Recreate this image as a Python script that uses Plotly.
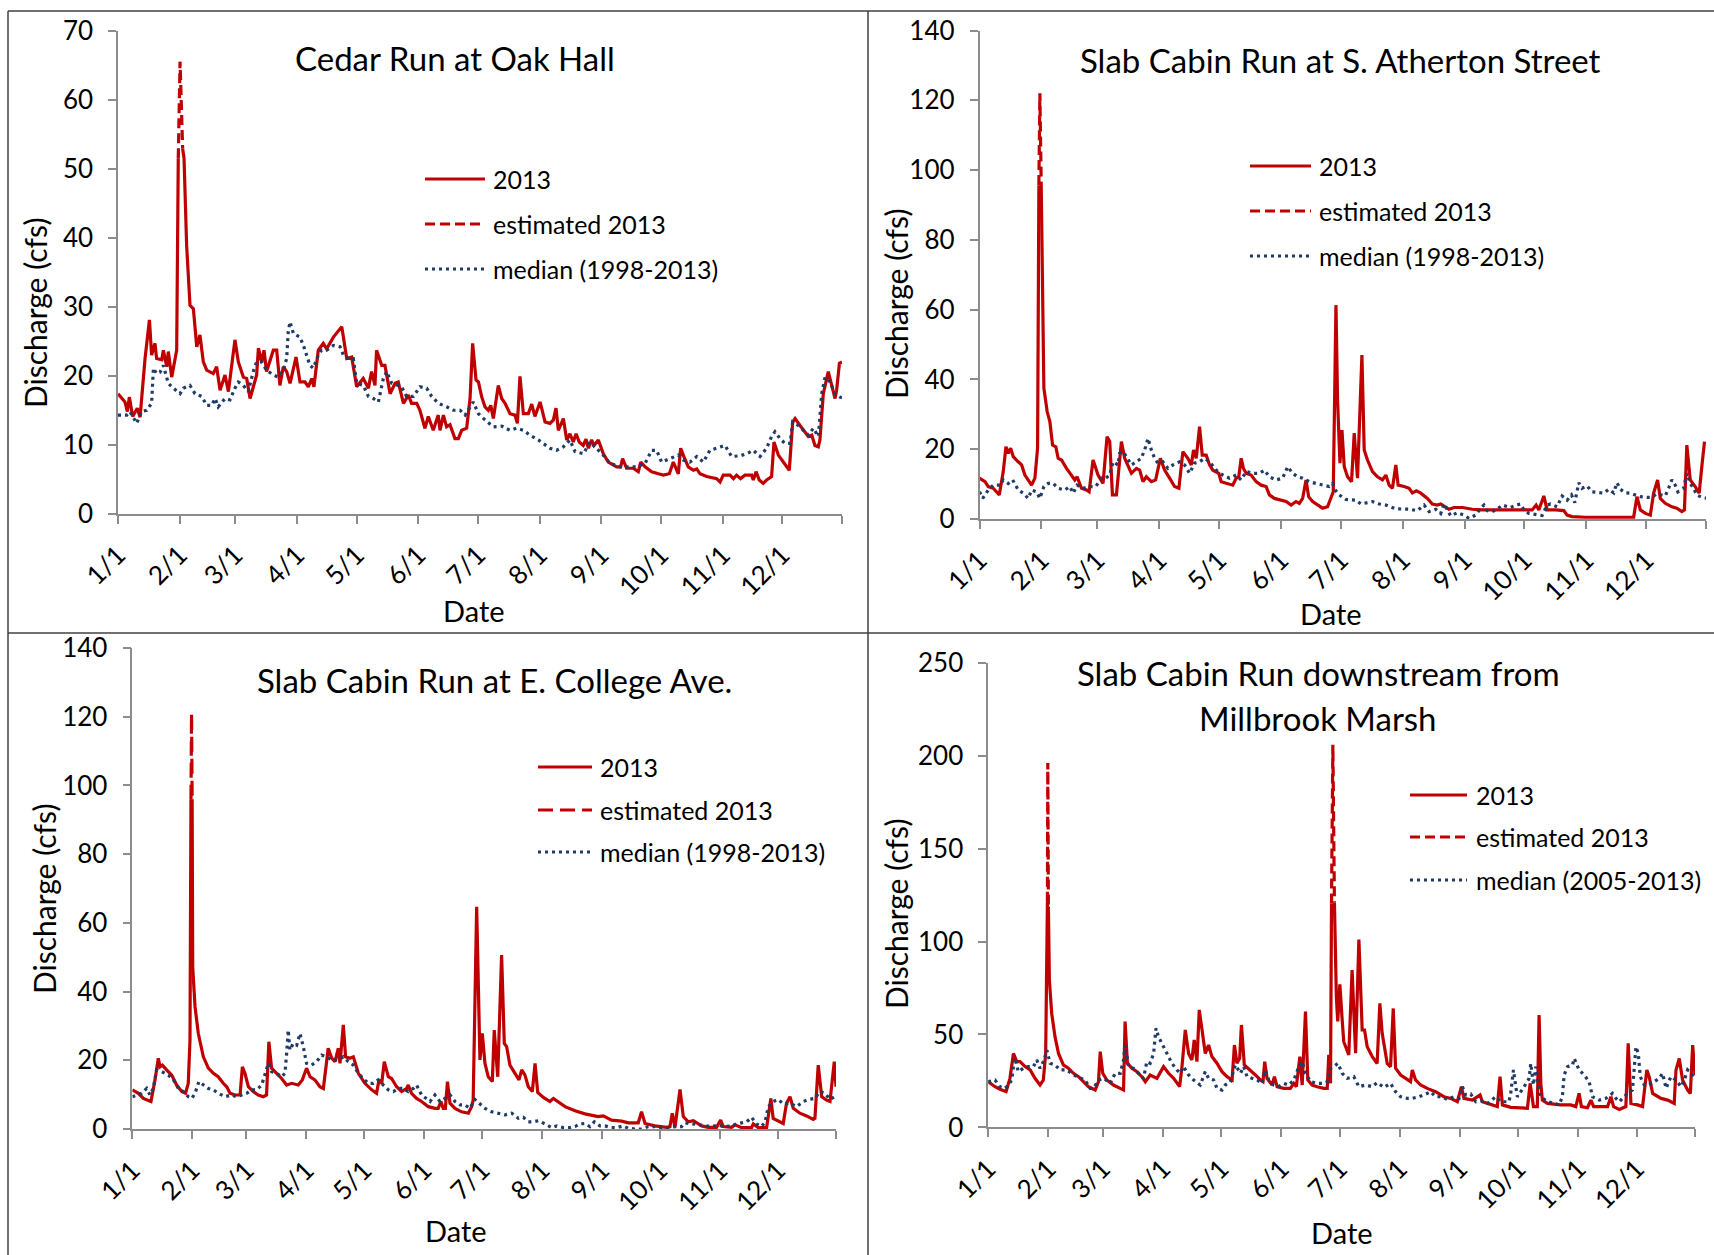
import pandas as pd
import plotly.graph_objects as go

# ---------------------------------------------------------------------------
# Daily discharge (cfs), 2013.  Positions along the year are given as day of
# year (1 = Jan 1).  None marks a break in the measured record where the
# estimated values take over.
# ---------------------------------------------------------------------------

# Cedar Run at Oak Hall
cedar_days = [1, 4.5, 5.7, 6.7, 8.4, 10.7, 12.1, 12.9, 14.6, 16.8, 17.9, 19.6, 20.4, 23, 23.8, 25.5,
              26.3, 28, 29.7, 30.5, 31.3, 32.2, 33.5, 34.2, 35.5, 37.2, 38.9, 40.6, 42.2, 43.9, 45.6,
              48.9, 50.6, 52.3, 54.8, 56.5, 59.8, 61.5, 64, 65.7, 67.4, 70.7, 71.6, 73.2, 74.4, 75.7,
              79.1, 80.8, 82.4, 84.1, 85.8, 87.5, 90.5, 92.5, 95, 96.7, 98.4, 99.5, 101.7, 104.2,
              105.9, 109.3, 113.5, 116, 118.5, 121, 124.3, 126.9, 128.5, 130.2, 131, 133.6, 135.2,
              137.8, 140.3, 141.9, 144.5, 147, 148.6, 151.2, 152.8, 155.3, 157, 159.5, 162, 162.9,
              164.6, 166.2, 167.9, 170.4, 172.1, 173.8, 176.3, 178, 179.3, 181, 182.2, 183.8, 185.5,
              187.2, 188.4, 189.7, 192.2, 193.9, 195.6, 198.1, 200.6, 201.8, 203.1, 204.8, 207.3,
              209, 210.6, 213.2, 215.7, 218.2, 219.9, 221.2, 222.4, 224.9, 226.6, 228.2, 229.9,
              231.3, 232.9, 234.9, 236.3, 237.5, 239.1, 240.3, 242.5, 245, 247.5, 251.7, 253.7,
              254.7, 256.7, 260, 262.6, 263.8, 266, 269.3, 272.7, 275.2, 278.2, 280.2, 282.7, 283.9,
              285.2, 287.7, 290.3, 292, 293.6, 297, 302, 303.7, 305.3, 308.7, 310.4, 312, 314, 316.2,
              319.6, 320.4, 321.8, 323.4, 325.4, 327.1, 329.6, 330.8, 333, 335.5, 338.5, 340.2,
              341.4, 343.9, 346.4, 348.1, 349.8, 351.4, 353.1, 353.9, 355.6, 358.1, 361.5, 362.3,
              363.7, 365]
cedar_2013 = [17.4, 16.2, 14.8, 16.9, 14.1, 15.3, 14.0, 17.2, 22.5, 28.1, 23, 24.7, 22.5, 22.3, 23.7,
              21.3, 23.5, 19.8, 22.3, 23.7, 51.5, None, 52.9, 51.5, 38.9, 30.2, 29.7, 24.2, 25.9, 22,
              20.8, 20.3, 21.3, 17.9, 20.1, 17.7, 25.2, 22, 19.8, 19.6, 16.7, 20.1, 24, 22, 23.7, 20.6,
              23.7, 23.7, 18.6, 21.3, 20.6, 18.9, 22.7, 19.1, 19.1, 18.4, 19.6, 18.4, 23.7, 24.7, 23.9,
              25.6, 27.1, 22.5, 22.7, 18.4, 19.6, 18.2, 20.6, 18.6, 23.7, 21.5, 21.5, 17.4, 18.9, 19.1,
              16, 17.2, 16, 16, 15, 12.4, 14.1, 12.1, 14.3, 12.1, 14.3, 12.6, 12.9, 10.9, 10.9, 12.1,
              12.4, 16.7, 24.7, 19.4, 19.1, 17, 15.5, 15, 15.7, 13.8, 18.6, 16.7, 16, 14.5, 14.3, 13.1,
              19.9, 14.5, 14.5, 15.9, 14.1, 16.2, 13.3, 13.1, 13.6, 15.3, 12.1, 13.8, 10.7, 11.6, 10.4,
              11.6, 10.4, 9.9, 10.8, 9.5, 10.7, 9.9, 10.7, 8.7, 7.5, 6.8, 6.8, 8.0, 6.6, 6.6, 6.1, 7.5,
              6.8, 6.1, 5.8, 5.6, 5.8, 7.5, 5.8, 9.5, 8.5, 6.8, 6.3, 6.5, 5.8, 5.4, 5.1, 4.6, 5.6, 5.6,
              5.1, 5.6, 5.1, 5.6, 5.6, 4.9, 6.1, 4.9, 4.4, 4.9, 5.4, 10.4, 8.5, 7.5, 6.3, 13.3, 13.8,
              12.8, 11.9, 11.2, 11.4, 9.9, 9.7, 10.7, 17.4, 20.6, 16.7, 17.9, 21.8, 22]
cedar_est_days = [31.3, 32.2, 33.5]
cedar_est = [51.5, 65.5, 52.9]
cedar_med_days = [1, 5.4, 7, 10.4, 12.9, 15.4, 17.9, 18.8, 20.4, 22.1, 23.8, 26.3, 28.8, 32.2, 33.8,
                  37.2, 39.7, 43.1, 45.6, 48.1, 49.8, 51.4, 54.8, 57.3, 59.8, 61.5, 64, 66.5, 69, 70.7,
                  73.2, 75.7, 79.1, 81.6, 84.1, 85.8, 86.6, 87.5, 89.2, 92.5, 94.2, 95.9, 97.5, 99.2,
                  101.7, 103.4, 105.9, 109.3, 112.6, 114.3, 116.8, 119.3, 121, 124.3, 126.9, 129.4,
                  131.9, 134.4, 136.1, 138.6, 141.1, 143.6, 146.1, 149.5, 152.8, 156.2, 158.7, 162.1,
                  166.2, 169.6, 173, 175.5, 179.6, 182.2, 185.5, 189.7, 193.9, 198, 201.4, 204.8,
                  208.1, 212.3, 218.2, 221.5, 224.9, 228.2, 230.8, 235, 238.3, 241.7, 245, 248.4,
                  253.4, 257.6, 261.8, 266, 269.3, 271.8, 274.3, 278.5, 282.7, 285.2, 288.6, 292,
                  295.3, 298.6, 302, 306.2, 309.5, 313.7, 317.1, 320.4, 323.8, 327.1, 329.6, 331.3,
                  333.8, 336.3, 338.9, 340.2, 343, 345.6, 348.1, 350.6, 353.1, 354.8, 356.5, 359,
                  361.5, 364, 365]
cedar_median = [14.3, 14.3, 14.8, 13.1, 14.8, 15, 16, 21.1, 20.3, 20.5, 21.5, 18.9, 18.2, 17.4, 18.2,
                18.6, 17.4, 17, 15.7, 15.7, 16.7, 15.5, 16.7, 16.5, 18.2, 19.1, 18.6, 17.7, 20.6, 22,
                22, 20.8, 20.1, 19.8, 20.8, 22.5, 26.4, 27.8, 26.1, 25.6, 24.4, 23, 21.5, 21.1, 23,
                23.7, 23.7, 24.4, 24.2, 23, 22.5, 22.5, 18.9, 18.6, 17, 16.7, 16.2, 19.6, 20.6, 18.9,
                18.6, 18.4, 17, 17, 18.4, 18.2, 17, 16, 15.5, 15, 15, 14.3, 16.2, 14.5, 13.6, 12.6,
                12.7, 12.1, 12.4, 12.1, 11.4, 10.7, 9.5, 9.2, 9.7, 10.7, 9, 8.7, 10.4, 9.5, 8.5, 7.3,
                6.8, 6.8, 6.8, 7.3, 9.2, 9.2, 7.5, 8, 8.5, 7.8, 7.5, 8.3, 7.5, 9.2, 9.5, 9.9, 8.3, 8.4,
                8.7, 9.2, 8.3, 9.5, 11.2, 11.9, 10.9, 10.2, 10.2, 13.3, 12.8, 12.1, 11.4, 12.4, 11.2,
                17.4, 19.8, 19.1, 17.4, 16.9, 16.8]

# Slab Cabin Run at S. Atherton Street
atherton_days = [1, 3.75, 5.4, 7.9, 10.9, 12.9, 14.25, 15.4, 16.6, 17.9, 20.4, 22.1, 23.75, 25.4, 27.1,
                 28.75, 30.1, 30.75, 31.3, 31.9, 32.6, 33.25, 34.9, 36.25, 37.6, 39.25, 40.4, 42.1,
                 44.6, 46.25, 48.75, 49.9, 52.1, 54.6, 55.9, 57.9, 60.4, 62.9, 64.9, 66.25, 67.6, 69.6,
                 70.9, 72.1, 73.75, 75.4, 77.1, 79.6, 81.25, 82.9, 84.6, 87.1, 89.25, 91.6, 93.75,
                 96.25, 98.75, 100.9, 102.9, 105.4, 107.1, 108.25, 109.6, 111.25, 112.6, 114.6,
                 116.25, 117.9, 120.9, 122.1, 125.4, 127.9, 129.6, 130.9, 132.1, 133.25, 134.6, 137.1,
                 139.6, 142.1, 144.6, 146.25, 148.75, 152.1, 154.6, 157.1, 159.6, 161.25, 162.9,
                 164.6, 165.9, 167.9, 170.4, 172.9, 175.4, 177.1, 178.25, 179.6, 180.4, 181.6, 182.6,
                 183.75, 185.4, 187.4, 188.75, 190.4, 192.6, 193.75, 195.4, 197.9, 200.4, 202.9,
                 204.6, 206.25, 207.9, 209.6, 210.75, 213.75, 216.25, 217.9, 219.9, 222.1, 225.4,
                 227.9, 230.4, 232.1, 234.6, 236.25, 238.75, 243, 247.9, 252.9, 259.6, 266.25,
                 272.9, 277.9, 279.9, 281.25, 283.75, 285.4, 289.6, 293.75, 295.4, 297.9, 304.6,
                 309.6, 316.25, 322.9, 328.75, 330.4, 332.1, 334.6, 337.1, 338.75, 340.75, 342.1,
                 344.6, 347.9, 350.4, 352.9, 354.2, 355.4, 357.1, 359.6, 361.6, 362.9, 364.25]
atherton_2013 = [11.7, 10.7, 9.3, 8.8, 6.9, 13.6, 20.7, 18.8, 20.3, 17.9, 16.4, 15.5, 12.6, 11.2, 9.7,
                 11.7, 20.3, 95.7, None, 96.7, 55.6, 37.5, 30.8, 27.9, 21.2, 20.7, 17.4, 16.9, 14.5,
                 13.1, 11.2, 12.1, 8.8, 8.3, 7.8, 16.9, 12.6, 10.2, 23.6, 22.2, 6.9, 6.9, 14.5, 22.2,
                 17.4, 15.5, 13.1, 14.5, 14, 10.7, 12.1, 10.7, 11.2, 17.4, 14, 11.7, 9.3, 8.8, 19.3,
                 17.4, 15.5, 19.8, 17.4, 26.5, 18.3, 18.3, 15.5, 14, 13.1, 10.7, 10.2, 9.7, 11.7, 12.1,
                 17.4, 14.5, 13.1, 12.6, 10.7, 9.7, 9.3, 6.9, 5.9, 5.4, 5, 4, 5, 4.5, 5.9, 11.2, 6.4, 5,
                 4, 3.1, 3.5, 5.9, 7.8, 61.3, 34, 16, 25.5, 15, 12.1, 10.7, 24.6, 11.7, 47, 19.8, 16.9,
                 13.6, 12.1, 11.2, 12.6, 9.7, 8.8, 15.5, 9.7, 9.3, 8.8, 7.5, 8.1, 7.4, 5.9, 4.3, 4, 4.3,
                 3.5, 2.8, 3.3, 3.3, 2.8, 2.6, 2.6, 2.6, 2.6, 2.6, 4, 2.6, 6.6, 2.6, 2.6, 2.4, 1.1, 0.7,
                 0.5, 0.5, 0.7, 0.5, 0.5, 6.4, 2.6, 1.6, 1.1, 7.4, 11.2, 5.9, 4.5, 3.5, 3.1, 2.1, 2.6,
                 21.2, 11.2, 9.3, 7.4, 15, 22.2]
atherton_est_days = [30.75, 31.25, 31.9]
atherton_est = [95.7, 122, 96.7]
atherton_med_days = [1, 2.6, 5.4, 7.9, 11.25, 12.9, 15.4, 17.6, 20.4, 22.9, 25.4, 27.1, 29.6, 31.25,
                     33.25, 35.4, 37.9, 40.4, 43.75, 46.25, 47.9, 49.9, 52.9, 56.25, 59.25, 62.1, 64.25,
                     66.25, 67.9, 70.4, 71.25, 72.9, 74.6, 77.1, 79.6, 82.1, 84.25, 85.4, 87.1, 88.75,
                     90.4, 92.9, 95.4, 97.9, 101.25, 103.75, 106.25, 108.75, 111.25, 113.75, 116.25,
                     119.6, 122.9, 126.25, 129.6, 132.1, 134.6, 137.9, 141.25, 143.75, 146.25, 149.6,
                     152.9, 155.4, 157.9, 160.4, 162.9, 166.25, 169.6, 172.9, 176.25, 177.9, 179.25,
                     181.25, 184.6, 189.6, 192.1, 197.9, 201.25, 204.6, 209.6, 216.25, 220.4, 223.75,
                     226.25, 229.6, 232.1, 233.75, 235.4, 237.1, 240.4, 243.75, 246.25, 249.6, 252.1,
                     253.75, 255.4, 257.9, 260.4, 262.9, 267.1, 269.6, 272.1, 273.75, 276.25, 279.6,
                     282.9, 285.4, 287.1, 290.4, 292.9, 295.4, 297.6, 299.25, 300.4, 301.25, 302.9,
                     305.4, 307.9, 311.25, 313.75, 316.25, 318.75, 320.4, 322.1, 324.6, 327.1, 329.6,
                     332.1, 335.4, 337.6, 340.4, 342.9, 344.6, 346.25, 347.9, 349.6, 350.9, 353.75,
                     355.4, 357.1, 358.75, 360.4, 362.9, 365]
atherton_median = [7.8, 5.9, 8.3, 9.7, 9.7, 11.2, 10.2, 11.2, 8.3, 7.4, 5.9, 8.3, 7.8, 5.9, 9.3, 10.2,
                   10.2, 8.8, 8.3, 9.3, 7.4, 9.7, 8.8, 9.3, 9.3, 11.7, 11.7, 12.6, 16.4, 15.5, 18.8,
                   19.3, 17.9, 15.5, 16.4, 17.4, 20.7, 23.1, 19.8, 17.4, 16, 16.4, 14.5, 15.5, 16.4,
                   15.5, 13.1, 16, 16.4, 17.4, 16.4, 14, 12.6, 11.7, 12.6, 11.2, 13.6, 13.1, 13.1, 14,
                   12.1, 11.2, 11.7, 15, 13.1, 12.1, 11.7, 10.7, 10.2, 9.7, 9.3, 10.2, 8.3, 6.9, 5.6,
                   5.4, 4.3, 5, 4.3, 4, 2.9, 2.8, 2.4, 4, 2.1, 2.8, 1.6, 4.3, 2.6, 0.9, 1.8, 1.1, 0.2,
                   1.1, 3.1, 4, 2.4, 2.1, 2.8, 4, 3.3, 4, 4.3, 2.6, 1.6, 1.4, 1, 4, 4.3, 3.5, 6.6, 5.4,
                   6.9, 4.7, 8.8, 10.4, 8.8, 9.5, 7.8, 7.5, 7.4, 8.5, 7.5, 10.4, 8.5, 7.5, 7.4, 6.9,
                   6.4, 6.2, 6.2, 7.2, 6.9, 6.6, 8.8, 11.2, 9.7, 7.8, 8.8, 13.1, 10.2, 8.8, 6.9, 6.2, 6]

# Slab Cabin Run at E. College Ave.
college_days = [1, 4.1, 6.65, 10.6, 12.7, 14.4, 15.3, 16.5, 18.7, 21.3, 23.9, 26.5, 28.5, 29.9, 30.8,
                31.3, 31.6, 31.9, 32.2, 33.4, 35.1, 37.7, 40.3, 42.9, 45.4, 48, 49.8, 51.5, 54.1,
                56.7, 57.9, 59.2, 61, 63.5, 66.1, 68.7, 70.4, 71.6, 73, 75.6, 78.2, 80.8, 83.4, 86.8,
                88.9, 91.1, 92.9, 95.4, 98, 99.8, 102.3, 104.1, 105.8, 107.5, 108.4, 110.1, 111.3,
                113.5, 115.3, 117.9, 121.3, 124.8, 127.3, 128.6, 130, 131.3, 133.4, 135.1, 137.7,
                140.3, 142.9, 143.7, 145.4, 148, 150.6, 154.1, 157.5, 159.2, 160.6, 161.8, 162.9,
                164, 165.3, 167.9, 171.3, 174.8, 176.5, 177.3, 179.1, 180.8, 182, 183.4, 185.1,
                187.2, 188.2, 190, 192, 193.4, 194.6, 196.3, 198.9, 201, 202.4, 204.1, 205.8, 207.9,
                209.3, 210.7, 213.6, 217, 218.8, 221.3, 224.8, 230, 235.1, 242, 244.6, 248.9, 254.1,
                257.6, 262.7, 264.4, 266.2, 271.3, 277.4, 279.1, 280.3, 281.7, 284.3, 286, 288.6,
                291.2, 295.5, 298.9, 303.2, 305.3, 306.7, 311, 312.7, 316.2, 321.3, 322.2, 324.8,
                329.1, 331.3, 332.5, 335.1, 337.7, 339.4, 341.2, 342.9, 346.3, 349.8, 353.2, 354.1,
                355.8, 357.6, 360.1, 361.9, 364.1, 365]
college_2013 = [11.4, 10.4, 8.9, 8, 14.3, 20.6, 18.1, 18.6, 17.2, 15.7, 12.8, 10.9, 10.4, 13.3, 25.9,
                95.8, None, 96, 47.2, 35.6, 27.8, 21, 17.7, 16.2, 15.2, 13.3, 12.3, 10.4, 9.9, 9.9,
                18.1, 16.2, 12.3, 10.9, 9.9, 9.4, 9.9, 25.4, 17.7, 16.2, 14.7, 12.8, 13.3, 12.8, 14.3,
                17.7, 15.2, 14.3, 12.3, 11.8, 23.5, 20.6, 19.6, 23.5, 19.1, 30.3, 21, 20.6, 21, 16.2,
                13.3, 11.4, 10.4, 14.3, 13.3, 19.6, 15.2, 14.7, 12.3, 10.9, 11.8, 12.8, 10.4, 8.9, 8,
                6.5, 6, 6, 8, 6, 6, 13.8, 7.5, 6, 5, 4.6, 6.5, 8.4, 64.7, 20.1, 27.8, 19.1, 15.2, 13.8,
                28.8, 15.2, 50.6, 24.9, 24, 18.6, 16.2, 14.3, 17.2, 15.7, 12.3, 10.9, 19.1, 10.6, 9.2,
                8, 8.9, 8, 6.5, 5.3, 4.4, 3.6, 3.8, 2.6, 2.3, 1.8, 1.8, 5, 1.6, 0.9, 0.5, 0.7, 4.6, 0.5,
                11.5, 3.6, 2.1, 2.4, 0.9, 0.5, 0.5, 2.6, 0.7, 0.5, 1.2, 0.4, 0.4, 1.5, 0.4, 0.4, 8.9,
                3.1, 2.4, 1.6, 7.5, 9.4, 6, 4.6, 3.8, 2.8, 3.1, 18.6, 9.4, 8.4, 8, 19.6, 12.3]
college_est_days = [31.3, 31.6, 31.9]
college_est = [95.8, 121, 96]
college_med_days = [1, 3.2, 5.8, 8.4, 10.1, 11.8, 13.5, 16.1, 19.6, 22.2, 24.8, 27.3, 29.9, 31.7,
                    33.4, 35.4, 37.7, 40.3, 42.9, 45.4, 48.9, 52.3, 54.9, 57.5, 60.1, 62.7, 65.3, 67.9,
                    69.6, 71.3, 73, 75.6, 78.2, 79.9, 80.8, 81.6, 82.5, 84.2, 86, 87.7, 89.4, 91.1,
                    93.7, 96.3, 98.9, 101.5, 104.1, 107.5, 110.1, 112.7, 115.3, 117.9, 120.4, 123,
                    125.6, 128.2, 130.8, 133.4, 136, 138.6, 141.1, 143.7, 146.3, 148, 150.6, 153.2,
                    155, 157.5, 160.1, 162.7, 165.3, 167.9, 170.5, 173.1, 175.6, 178.2, 180.8, 183.4,
                    186.9, 190.3, 193.8, 197.2, 200.7, 203.2, 205.8, 208.4, 211, 214.4, 217.9, 220.5,
                    223.9, 227.4, 230, 232.6, 235.1, 237.7, 240, 242.9, 245.5, 248.9, 251.5, 254.9,
                    257.6, 261, 264.4, 267.9, 271.3, 274.8, 278.2, 281.7, 285.1, 286.9, 290.3, 293.8,
                    297.2, 300.7, 304.1, 306.7, 311, 313.6, 316.2, 318.8, 321.3, 323.9, 326.2, 328.2,
                    330, 332.5, 335.1, 337.7, 341.2, 344.6, 348.1, 350.7, 354.1, 356.7, 359.3, 361.9,
                    364.4]
college_median = [9.4, 9.9, 10.4, 11.8, 9.9, 11.8, 17.2, 16.7, 15.7, 14.3, 11.8, 10.9, 9.4, 8.9, 10.4,
                  13.8, 12.8, 11.8, 11.4, 10.4, 9.4, 9.9, 9.4, 9.9, 10.4, 11.4, 11.4, 12.8, 15.7, 19.1,
                  16.7, 16.2, 15.2, 16.2, 22, 28.8, 23, 24.9, 24.4, 27.8, 24, 19.1, 18.6, 19.6, 21.5,
                  21, 20.1, 20.1, 21, 19.6, 18.6, 16.2, 14.7, 13.3, 13.3, 14.3, 12.8, 11.4, 10.9, 11.8,
                  11.8, 10.9, 11.8, 12.8, 9.9, 8.9, 8, 9.9, 8, 8.9, 9.9, 8, 7, 7, 6, 8.6, 7.3, 6, 5, 4.6,
                  4.1, 4.6, 3.1, 3.4, 2.1, 2.1, 2.4, 1.5, 0.4, 0.9, 0.4, 0.4, 0.7, 1.5, 1.6, 0.7, 2.1,
                  0.9, 0.9, 0.4, 0.4, 0.9, 0.2, 0, 0, 0.7, 0.7, 0.2, 0.2, 0.7, 0.7, 1.8, 1.5, 1.2, 0.9,
                  0.7, 1.2, 0.7, 0.9, 1.5, 1.8, 2.1, 3.4, 1.5, 0.7, 1.8, 6.5, 8, 8.6, 7.3, 7.5, 6.5, 8,
                  8.6, 8.9, 10.9, 10.4, 8.6, 9.4]

# Slab Cabin Run downstream from Millbrook Marsh
millbrook_days = [1, 4.5, 7.1, 10.2, 12.2, 14, 15.7, 17.4, 20, 22.6, 25.1, 27.7, 29.4, 30.6, 31.5, 31.7,
                  32, 32.5, 33.7, 35.4, 37.2, 39.7, 42.3, 44.9, 47.5, 50.1, 52.6, 56.1, 57.8, 58.7, 60,
                  62.1, 65.5, 69, 70.7, 71.5, 72.7, 75, 77.6, 80.1, 81.9, 84.4, 87.9, 91.3, 93.9, 96.5,
                  99.6, 100.8, 102.5, 104.2, 105.9, 107.1, 108.5, 109.7, 111.6, 112.8, 114.5, 116.2,
                  118.8, 121.4, 124, 126.6, 127.8, 129.1, 130.5, 131.4, 132.9, 136, 138.6, 141.2,
                  142.5, 143.4, 144.6, 147.2, 148.4, 149.8, 153.2, 156.6, 158.4, 159.7, 161.5, 162.7,
                  164.4, 165.6, 167.8, 170.4, 173.8, 175.6, 176.4, 177.3, 177.8, 178.5, 179.3, 180.3,
                  181, 182.1, 183.3, 184.1, 186.7, 188.4, 190.2, 191.9, 193.6, 194.8, 196.2, 198.8,
                  201.3, 202.7, 203.9, 206.5, 208.2, 209.6, 210.8, 213.4, 216, 218.5, 219.4, 221.1,
                  223.7, 227.1, 231.4, 235.7, 239.2, 242.6, 244.7, 246, 250.3, 254.3, 255.5, 259.8,
                  263.2, 264.6, 265.8, 270.1, 275.3, 278.7, 280.1, 281.8, 283.8, 284.7, 285.6, 286.4,
                  289, 292.5, 295.9, 301, 303.6, 305.3, 306.5, 309.6, 311.4, 312.8, 316.5, 320, 321.7,
                  323.1, 326, 329.4, 330.6, 332, 335.4, 338, 340.2, 341.4, 343.2, 347.5, 350.9, 354.3,
                  355.2, 356.9, 358.6, 361.2, 362.6, 363.8, 365]
millbrook_2013 = [24.6, 21.9, 20.5, 19.2, 26.4, 39.8, 35.4, 35.4, 32.7, 30.9, 26.4, 22.8, 25.5, 39.8,
                  121.4, None, 118.8, 79.3, 61.3, 48.8, 39.8, 33.6, 31.8, 29.1, 27.3, 24.6, 21.9, 20.1,
                  24.6, 40.8, 29.1, 25.5, 22.8, 21, 20.1, 56.9, 34.5, 31.8, 30, 27.3, 24.6, 28.2, 26.4,
                  32.7, 29.1, 26.4, 21.9, 32.7, 52.4, 39.8, 36.3, 47, 35.4, 63.2, 48.8, 39.8, 44.3,
                  38.1, 34.5, 30, 27.3, 25.5, 44.3, 34.5, 37.2, 55.1, 33.6, 30.9, 28.2, 25.5, 24.6,
                  35.4, 26.4, 22.8, 27.3, 21.9, 21, 21, 23.7, 21.9, 38.1, 22.8, 62.3, 25.5, 22.8, 21.9,
                  21, 21, 39, 23.7, 120.5, None, 121, 70, 57, 77, 57.8, 46.1, 39, 84.7, 39.9, 101, 52.4,
                  52.4, 43.4, 38, 34.4, 66.7, 50.6, 34.4, 32.6, 64, 31.8, 28.2, 26.4, 24.6, 30.9, 25.5,
                  22.8, 21, 19.2, 16.5, 15.6, 13.8, 21.9, 15.6, 14.7, 17.4, 13.8, 12.1, 11.2, 27.3,
                  12.1, 10.8, 10.3, 10.3, 23.7, 11.2, 11.2, 60.5, 23.7, 14.7, 12.9, 12.5, 12.1, 12.1,
                  11.2, 18.3, 11.2, 10.6, 14.7, 11.2, 11.2, 11.2, 16.5, 11.2, 9.7, 11.2, 45.2, 12.9,
                  12.1, 11.2, 30.9, 27.3, 18.3, 15.6, 14.7, 12.9, 30.9, 37.1, 25.5, 20.1, 18.3, 44.3,
                  28.2]
millbrook_est_days = [31.5, 31.7, 32, 100, 177.8, 178.5, 179.3]
millbrook_est = [121.4, 196, 118.8, None, 120.5, 205.8, 121]
millbrook_med_days = [1, 4.5, 7.1, 9.7, 11.4, 13.1, 14, 14.8, 16.5, 19.1, 21.7, 24.3, 26, 27.7, 29.8,
                      31.2, 32.9, 35.4, 38, 41.5, 44.9, 48.3, 50.9, 53.5, 55.2, 57.8, 60.7, 63.8,
                      66.4, 69, 70.7, 71.5, 73.3, 75.8, 78.4, 81, 82.7, 84.4, 86.2, 87.4, 88.7, 90.5,
                      92.2, 93.9, 95.6, 98.2, 99.9, 101.6, 104.2, 106.8, 110.2, 112.8, 114.5, 117.1,
                      118.8, 121.4, 123.1, 125.7, 128.3, 130.9, 132.6, 134.3, 136.9, 139.5, 142,
                      143.7, 145.5, 148, 150.6, 153.2, 155.8, 158.4, 161, 162.7, 164.4, 167, 170.4,
                      173.8, 175.6, 177.3, 179, 181.1, 183.3, 185.9, 189.3, 191.9, 195.3, 198.8,
                      201.3, 204.8, 208.2, 210.8, 213.4, 216.8, 219.4, 222.8, 226.3, 228.8, 231.4,
                      234, 237.4, 240.9, 243.5, 245.2, 246.9, 249.5, 252.1, 254.6, 258.1, 262.4,
                      264.9, 269.2, 270.1, 271.5, 272.7, 273.5, 277, 279.6, 280.4, 281.8, 283, 284.2,
                      285.6, 289, 292.5, 295, 296.7, 297.6, 299.3, 301.9, 302.8, 305.3, 307.9, 310.5,
                      312.2, 315.7, 319.1, 322.5, 324.3, 326, 328.5, 331.1, 332.8, 333.7, 334.6,
                      335.8, 336.8, 338.9, 341.4, 344, 346.6, 348.3, 350.1, 352.6, 355.2, 357.8,
                      359.5, 361.2, 363.8, 365]
millbrook_median = [24.6, 25.5, 21.9, 21, 22.8, 25.5, 32.7, 37.2, 30, 31.8, 32.7, 32.7, 36.3, 31.8,
                    36.3, 41.6, 34.5, 33.6, 30.9, 30.9, 28.2, 26.4, 25.5, 21, 21, 25.5, 26.4, 23.7,
                    29.1, 29.1, 36.3, 44.3, 32.7, 31.8, 29.1, 26.4, 35.4, 34.5, 39.8, 53.3, 48.8,
                    45.2, 41.6, 38.1, 34.5, 30.9, 29.1, 32.7, 28.2, 25.5, 22.8, 30, 26.4, 25.5, 21,
                    20.1, 22.8, 24.6, 33.6, 29.1, 32.7, 27.3, 26.4, 25.5, 23.7, 30.9, 25.5, 22.8,
                    21.9, 23.7, 22.8, 25.5, 32.7, 35.4, 29.1, 24.6, 23.7, 23.7, 24.6, 31.8, 32.7,
                    34.5, 29.1, 26.4, 27.3, 21.9, 22.8, 21.9, 24.1, 21.5, 23.7, 19.2, 16.5, 15.6,
                    15.6, 16.5, 17.9, 19.2, 16.5, 16.5, 15.1, 16.5, 15.6, 21.9, 17.4, 17.9, 13.8,
                    14.3, 12.9, 16.5, 13.8, 13.8, 18.3, 30.9, 21.9, 16.5, 21.9, 26.4, 34.4, 22.8,
                    32.6, 23.7, 16.5, 13.8, 12.9, 12.1, 16.5, 28.2, 32.6, 33.5, 37.1, 30.9, 28.2,
                    24.6, 16.5, 14.7, 15.6, 18.3, 15.6, 13.8, 16.5, 19.2, 20.1, 33.5, 43.4, 39.8,
                    27.3, 22.8, 22.8, 24.6, 26.4, 29.1, 21, 27.3, 25.5, 21.9, 25.5, 30.9, 28.2, 29]

# Panel titles, axis ranges and legend labels
panel_titles = ["Cedar Run at Oak Hall", "Slab Cabin Run at S. Atherton Street",
                "Slab Cabin Run at E. College Ave.",
                "Slab Cabin Run downstream from", "Millbrook Marsh"]
series_labels = ["2013", "estimated 2013"]
median_labels = ["median (1998-2013)", "median (1998-2013)", "median (1998-2013)", "median (2005-2013)"]
y_max = [70, 140, 140, 250]
y_step = [10, 20, 20, 50]
month_ticks = pd.date_range("2013-01-01", "2013-12-01", freq="MS")
month_labels = [f"{d.month}/{d.day}" for d in month_ticks]

# ---------------------------------------------------------------------------
W, H = 1714, 1255
FONT = "Lato, 'Open Sans', sans-serif"
RED = "#C00000"
BLUE = "#1F3B66"
AXIS = "#8C8C8C"
LW = 3.2
DOT = "3px,4px"

BASE = pd.Timestamp("2013-01-01")


def to_dates(days):
    return [BASE + pd.Timedelta(days=d - 1) for d in days]


def px_x(x):
    return x / W


def px_y(y):
    return 1 - y / H


# plot-area corners in pixels: (left, right, top of y range, y = 0)
areas = [(118, 842, 30.6, 513.8),
         (979.5, 1706, 30.6, 519),
         (132.4, 836, 648, 1129),
         (988.2, 1695, 662.7, 1127.4)]

panels = [
    (cedar_days, cedar_2013, cedar_est_days, cedar_est, cedar_med_days, cedar_median),
    (atherton_days, atherton_2013, atherton_est_days, atherton_est, atherton_med_days, atherton_median),
    (college_days, college_2013, college_est_days, college_est, college_med_days, college_median),
    (millbrook_days, millbrook_2013, millbrook_est_days, millbrook_est, millbrook_med_days,
     millbrook_median),
]

# key placement per panel: sample line x-span, text start, row centres (pixels)
key_layout = [
    ((425, 485), 491, (179, 224, 269)),
    ((1250, 1311), 1317, (166, 211, 256)),
    ((538, 592), 598, (767, 810, 852)),
    ((1410, 1467), 1474, (795, 837, 880)),
]
est_dash = ["10px,5px", "10px,5px", "15px,7px", "10px,5px"]

fig = go.Figure()
layout = dict(width=W, height=H, margin=dict(l=0, r=0, t=0, b=0, autoexpand=False),
              paper_bgcolor="white", plot_bgcolor="white", showlegend=False,
              font=dict(family=FONT, size=25, color="black"))

for i, (days, q, est_days, est, med_days, med) in enumerate(panels):
    n = "" if i == 0 else str(i + 1)
    xa, ya = "x" + n, "y" + n
    fig.add_trace(go.Scatter(x=to_dates(days), y=q, mode="lines", name=series_labels[0],
                             line=dict(color=RED, width=LW), connectgaps=False,
                             xaxis=xa, yaxis=ya))
    fig.add_trace(go.Scatter(x=to_dates(est_days), y=est, mode="lines", name=series_labels[1],
                             line=dict(color=RED, width=LW, dash=est_dash[i]), connectgaps=False,
                             xaxis=xa, yaxis=ya))
    fig.add_trace(go.Scatter(x=to_dates(med_days), y=med, mode="lines", name=median_labels[i],
                             line=dict(color=BLUE, width=LW, dash=DOT),
                             xaxis=xa, yaxis=ya))

    left, right, top, bottom = areas[i]
    common = dict(ticks="outside", ticklen=8, tickwidth=1.5, tickcolor=AXIS,
                  showline=True, linecolor=AXIS, linewidth=1.5, showgrid=False, zeroline=False,
                  automargin=False, fixedrange=True,
                  tickfont=dict(family=FONT, size=26, color="black"))
    layout["xaxis" + n] = dict(
        domain=[px_x(left), px_x(right)], anchor=ya, type="date",
        range=[BASE, BASE + pd.Timedelta(days=364)],
        tickvals=list(month_ticks) + [BASE + pd.Timedelta(days=364)],
        ticktext=month_labels + [""], tickangle=-45, ticklabelstandoff=6, **common)
    layout["yaxis" + n] = dict(
        domain=[px_y(bottom), px_y(top)], anchor=xa, range=[0, y_max[i]], dtick=y_step[i],
        ticklabelstandoff=10, **common)

    # key: sample line + label for each series
    (kx0, kx1), tx, rows = key_layout[i]
    styles = [dict(color=RED, width=LW), dict(color=RED, width=LW, dash=est_dash[i]),
              dict(color=BLUE, width=LW, dash=DOT)]
    labels = series_labels + [median_labels[i]]
    for style, label, ry in zip(styles, labels, rows):
        fig.add_shape(type="line", xref="paper", yref="paper",
                      x0=px_x(kx0), x1=px_x(kx1), y0=px_y(ry), y1=px_y(ry), line=style)
        fig.add_annotation(text=label, x=px_x(tx), y=px_y(ry), xref="paper", yref="paper",
                           showarrow=False, xanchor="left", yanchor="middle",
                           font=dict(family=FONT, size=25, color="black"))

fig.update_layout(**layout)

# panel titles
title_pos = [(455, 58), (1340, 60), (494, 680), (1318, 673), (1318, 718)]
for text, (x, y) in zip(panel_titles, title_pos):
    fig.add_annotation(text=text, x=px_x(x), y=px_y(y), xref="paper", yref="paper",
                       showarrow=False, xanchor="center", yanchor="middle",
                       font=dict(family=FONT, size=33, color="black"))

# axis titles
for x, y in [(35, 313), (896, 304), (44, 899), (896, 914)]:
    fig.add_annotation(text="Discharge (cfs)", x=px_x(x), y=px_y(y), xref="paper", yref="paper",
                       showarrow=False, textangle=-90, xanchor="center", yanchor="middle",
                       font=dict(family=FONT, size=30, color="black"))
for x, y in [(474, 610), (1331, 613), (456, 1230), (1342, 1232)]:
    fig.add_annotation(text="Date", x=px_x(x), y=px_y(y), xref="paper", yref="paper",
                       showarrow=False, xanchor="center", yanchor="middle",
                       font=dict(family=FONT, size=29, color="black"))

# frame lines separating the four panels
frame = dict(color="#404040", width=1.5)
for x0, y0, x1, y1 in [(8, 11, W, 11), (8, 11, 8, H), (868, 11, 868, H), (8, 633, W, 633)]:
    fig.add_shape(type="line", xref="paper", yref="paper",
                  x0=px_x(x0), y0=px_y(y0), x1=px_x(x1), y1=px_y(y1), line=frame)

fig.write_html("out.html")
